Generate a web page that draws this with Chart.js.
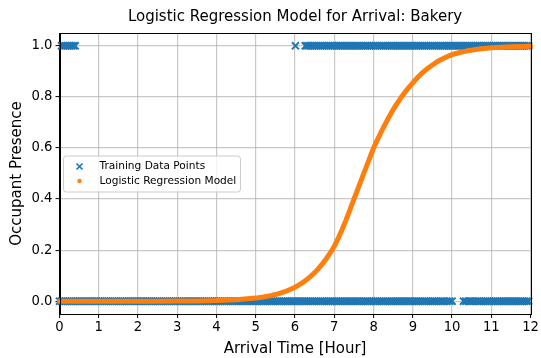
<!DOCTYPE html>
<html><head><meta charset="utf-8">
<script src="https://cdn.jsdelivr.net/npm/chart.js@4.4.1/dist/chart.umd.min.js"></script>
<style>html,body{margin:0;padding:0;background:#fff}canvas{display:block}</style>
</head><body>
<canvas id="c" width="541" height="358"></canvas>
<script>
const chartTitle = 'Logistic Regression Model for Arrival: Bakery';
const xLabel = 'Arrival Time [Hour]';
const yLabel = 'Occupant Presence';
const seriesNames = ['Training Data Points', 'Logistic Regression Model'];
const xTicks = [0,1,2,3,4,5,6,7,8,9,10,11,12];
const yTicks = [0,0.2,0.4,0.6,0.8,1.0];

// training points observed with presence = 1
const presentHours = [
 0.05,0.1,0.15,0.2,0.25,0.3,0.35,0.4,
 6.01,
 6.26,6.3,6.35,6.4,6.45,6.5,6.55,6.6,6.65,6.7,6.75,6.8,6.85,6.9,6.95,
 7,7.05,7.1,7.15,7.2,7.25,7.3,7.35,7.4,7.45,7.5,7.55,7.6,7.65,7.7,7.75,7.8,7.85,7.9,7.95,
 8,8.05,8.1,8.15,8.2,8.25,8.3,8.35,8.4,8.45,8.5,8.55,8.6,8.65,8.7,8.75,8.8,8.85,8.9,8.95,
 9,9.05,9.1,9.15,9.2,9.25,9.3,9.35,9.4,9.45,9.5,9.55,9.6,9.65,9.7,9.75,9.8,9.85,9.9,9.95,
 10,10.05,10.1,10.15,10.2,10.25,10.3,10.35,10.4,10.45,10.5,10.55,10.6,10.65,10.7,10.75,10.8,10.85,10.9,10.95,
 11,11.05,11.1,11.15,11.2,11.25,11.3,11.35,11.4,11.45,11.5,11.55,11.6,11.65,11.7,11.75,11.8,11.85,11.9,11.95
];
// training points observed with presence = 0
const absentHours = [
 0,0.05,0.1,0.15,0.2,0.25,0.3,0.35,0.4,0.45,0.5,0.55,0.6,0.65,0.7,0.75,0.8,0.85,0.9,0.95,
 1,1.05,1.1,1.15,1.2,1.25,1.3,1.35,1.4,1.45,1.5,1.55,1.6,1.65,1.7,1.75,1.8,1.85,1.9,1.95,
 2,2.05,2.1,2.15,2.2,2.25,2.3,2.35,2.4,2.45,2.5,2.55,2.6,2.65,2.7,2.75,2.8,2.85,2.9,2.95,
 3,3.05,3.1,3.15,3.2,3.25,3.3,3.35,3.4,3.45,3.5,3.55,3.6,3.65,3.7,3.75,3.8,3.85,3.9,3.95,
 4,4.05,4.1,4.15,4.2,4.25,4.3,4.35,4.4,4.45,4.5,4.55,4.6,4.65,4.7,4.75,4.8,4.85,4.9,4.95,
 5,5.05,5.1,5.15,5.2,5.25,5.3,5.35,5.4,5.45,5.5,5.55,5.6,5.65,5.7,5.75,5.8,5.85,5.9,5.95,
 6,6.05,6.1,6.15,6.2,6.25,6.3,6.35,6.4,6.45,6.5,6.55,6.6,6.65,6.7,6.75,6.8,6.85,6.9,6.95,
 7,7.05,7.1,7.15,7.2,7.25,7.3,7.35,7.4,7.45,7.5,7.55,7.6,7.65,7.7,7.75,7.8,7.85,7.9,7.95,
 8,8.05,8.1,8.15,8.2,8.25,8.3,8.35,8.4,8.45,8.5,8.55,8.6,8.65,8.7,8.75,8.8,8.85,8.9,8.95,
 9,9.05,9.1,9.15,9.2,9.25,9.3,9.35,9.4,9.45,9.5,9.55,9.6,9.65,9.7,9.75,9.8,
 9.87,9.94,10.0,
 10.29,10.35,10.41,10.47,10.53,10.59,10.65,10.7,
 10.75,10.8,10.85,10.9,10.95,
 11,11.05,11.1,11.15,11.2,11.25,11.3,11.35,11.4,11.45,11.5,11.55,11.6,11.65,11.7,11.75,11.8,11.85,11.9,11.95
];

// fitted logistic model
const modelHours = [
 0,0.5,1,1.5,2,2.5,3,3.5,4,4.5,
 5,5.1,5.2,5.3,5.4,5.5,5.6,5.7,5.8,5.9,
 6,6.1,6.2,6.3,6.4,6.5,6.6,6.7,6.8,6.9,
 7,7.1,7.2,7.3,7.4,7.5,7.6,7.7,7.8,7.9,
 8,8.1,8.2,8.3,8.4,8.5,8.6,8.7,8.8,8.9,
 9,9.1,9.2,9.3,9.4,9.5,9.6,9.7,9.8,9.9,
 10,10.1,10.2,10.3,10.4,10.5,10.6,10.7,10.8,10.9,
 11,11.5,12
];
const modelPresence = [
 0.000005,0.00001,0.00002,0.00005,0.00012,0.00026,0.00056,0.0012,0.0026,0.0057,
 0.0122,0.0143,0.0166,0.0194,0.0225,0.0262,0.0305,0.0354,0.0411,0.0476,
 0.055,0.0636,0.0735,0.0848,0.0976,0.1121,0.1284,0.1468,0.1673,0.19,
 0.215,0.2466,0.2811,0.3184,0.3582,0.4001,0.4396,0.4798,0.5202,0.5604,
 0.5999,0.6327,0.6644,0.6944,0.7231,0.7501,0.7745,0.7972,0.8182,0.8374,
 0.8549,0.8724,0.8879,0.9018,0.9141,0.925,0.9354,0.9445,0.9524,0.9592,
 0.965,0.9697,0.9737,0.9772,0.9803,0.983,0.9854,0.9874,0.9891,0.9907,
 0.992,0.9963,0.9983
];

const BLUE = '#1f77b4', ORANGE = '#ff7f0e';
const FONT = "'DejaVu Sans', 'Liberation Sans', sans-serif";

const trainingPoints = presentHours.map(h => ({x: h, y: 1}))
  .concat(absentHours.map(h => ({x: h, y: 0})));
const modelPoints = modelHours.map((h, i) => ({x: h, y: modelPresence[i]}));

const decor = {
  id: 'decor',
  afterDatasetsDraw(chart) {
    const {ctx, chartArea: a} = chart;
    ctx.save();
    ctx.strokeStyle = '#000';
    ctx.lineWidth = 1;
    ctx.strokeRect(Math.round(a.left) + 0.5, Math.round(a.top) + 0.5,
      Math.round(a.right) - Math.round(a.left), Math.round(a.bottom) - Math.round(a.top));
    // title
    ctx.fillStyle = '#000';
    ctx.font = '15px ' + FONT;
    ctx.textAlign = 'center';
    ctx.textBaseline = 'middle';
    ctx.fillText(chartTitle, (a.left + a.right) / 2, 17.5);
    // legend
    const lx = 63.5, ly = 156, lw = 177, lh = 36, r = 3;
    ctx.beginPath();
    ctx.moveTo(lx + r, ly);
    ctx.arcTo(lx + lw, ly, lx + lw, ly + lh, r);
    ctx.arcTo(lx + lw, ly + lh, lx, ly + lh, r);
    ctx.arcTo(lx, ly + lh, lx, ly, r);
    ctx.arcTo(lx, ly, lx + lw, ly, r);
    ctx.closePath();
    ctx.fillStyle = 'rgba(255,255,255,0.8)';
    ctx.fill();
    ctx.strokeStyle = '#cccccc';
    ctx.lineWidth = 1;
    ctx.stroke();
    // markers
    const mx = 79.5, my1 = 166.5, my2 = 181;
    ctx.strokeStyle = BLUE;
    ctx.lineWidth = 1.7;
    ctx.beginPath();
    ctx.moveTo(mx - 3, my1 - 3); ctx.lineTo(mx + 3, my1 + 3);
    ctx.moveTo(mx - 3, my1 + 3); ctx.lineTo(mx + 3, my1 - 3);
    ctx.stroke();
    ctx.fillStyle = ORANGE;
    ctx.beginPath();
    ctx.arc(mx, my2, 2.2, 0, Math.PI * 2);
    ctx.fill();
    ctx.fillStyle = '#000';
    ctx.font = '10.6px ' + FONT;
    ctx.textAlign = 'left';
    ctx.fillText(seriesNames[0], 99.5, my1);
    ctx.fillText(seriesNames[1], 99.5, my2);
    ctx.restore();
  }
};

new Chart(document.getElementById('c'), {
  type: 'scatter',
  data: {
    datasets: [
      {
        label: seriesNames[1],
        data: modelPoints,
        showLine: true,
        borderColor: ORANGE,
        backgroundColor: ORANGE,
        borderWidth: 5,
        borderCapStyle: 'round',
        borderJoinStyle: 'round',
        pointRadius: 0,
        tension: 0,
        order: 0,
        clip: false
      },
      {
        label: seriesNames[0],
        data: trainingPoints,
        pointStyle: 'crossRot',
        pointRadius: 5,
        pointBorderWidth: 1.9,
        borderColor: BLUE,
        backgroundColor: BLUE,
        showLine: false,
        order: 1,
        clip: false
      }
    ]
  },
  options: {
    responsive: false,
    animation: false,
    devicePixelRatio: 1,
    events: [],
    layout: {padding: {left: 0, right: 9.5, top: 33, bottom: 0}},
    plugins: {legend: {display: false}, tooltip: {enabled: false}, title: {display: false}},
    scales: {
      x: {
        type: 'linear', min: 0, max: 12,
        afterBuildTicks: s => { s.ticks = xTicks.map(v => ({value: v})); },
        afterFit: s => { s.height = 44; },
        ticks: {font: {family: FONT, size: 13.2}, color: '#000', padding: 2, maxRotation: 0, autoSkip: false,
          callback: v => String(v)},
        grid: {color: 'rgba(176,176,176,0.7)', lineWidth: 1.2, tickColor: '#000', tickLength: 4, tickWidth: 1},
        border: {color: '#000', width: 1},
        title: {display: true, text: xLabel, font: {family: FONT, size: 15}, color: '#000', padding: {top: 1, bottom: 0}}
      },
      y: {
        type: 'linear', min: -0.05, max: 1.05,
        afterBuildTicks: s => { s.ticks = yTicks.map(v => ({value: v})); },
        afterFit: s => { s.width = 59.5; },
        ticks: {font: {family: FONT, size: 13.2}, color: '#000', padding: 3, callback: v => v.toFixed(1)},
        grid: {color: 'rgba(176,176,176,0.7)', lineWidth: 1.2, tickColor: '#000', tickLength: 4, tickWidth: 1},
        border: {color: '#000', width: 1},
        title: {display: true, text: yLabel, font: {family: FONT, size: 15}, color: '#000', padding: {top: 8, bottom: 0}}
      }
    }
  },
  plugins: [decor]
});
</script>
</body></html>
